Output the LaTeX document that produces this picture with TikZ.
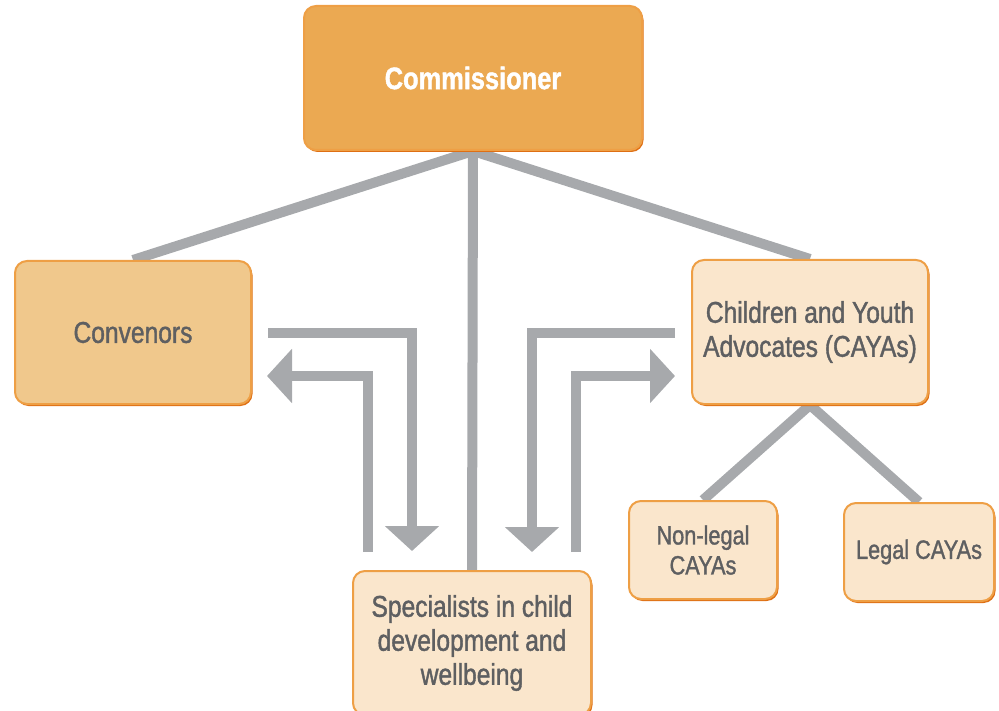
\documentclass[tikz,border=0pt]{standalone}
\usepackage{fontspec}
\setmainfont{Liberation Sans}[FakeStretch=0.82, FakeBold=1.3]
\usetikzlibrary{arrows.meta,backgrounds,shadows}
\definecolor{topfill}{HTML}{EBA952}
\definecolor{midfill}{HTML}{F0C88C}
\definecolor{lowfill}{HTML}{FAE6CC}
\definecolor{edge}{HTML}{EE9F45}
\definecolor{edgedark}{HTML}{DE6F14}
\definecolor{linkgray}{HTML}{A7A9AC}
\definecolor{textgray}{HTML}{5E5F61}
\tikzstyle{box} = [rounded corners=12pt, draw=edge, line width=2pt, align=center, inner sep=0pt, text=textgray, font=\fontsize{30}{34}\selectfont, general shadow={fill=edgedark, shadow xshift=1.5pt, shadow yshift=-2pt}]
\tikzstyle{link} = [line width=10pt, draw=linkgray]
\tikzstyle{flow} = [link, -{Triangle[length=25pt,width=53pt]}]

\begin{document}
\begin{tikzpicture}[x=1pt,y=-1pt]
			\useasboundingbox (0,0) rectangle (999,711);
			\node[box, fill=topfill, text=white, font=\fontsize{31}{34}\selectfont\bfseries, minimum width=338pt, minimum height=144pt] (comm) at (473,78) {Commissioner};
			\node[box, fill=midfill, minimum width=236pt, minimum height=143pt] (conv) at (133,332.5) {Convenors};
			\node[box, fill=lowfill, minimum width=236pt, minimum height=144pt] (caya) at (810,332) {Children and Youth\\Advocates (CAYAs)};
			\node[box, fill=lowfill, minimum width=238pt, minimum height=144pt] (spec) at (472,643) {Specialists in child\\development and\\wellbeing};
			\node[box, fill=lowfill, font=\fontsize{26.5}{30}\selectfont, minimum width=148pt, minimum height=98pt] (nonlegal) at (703,550) {Non-legal\\CAYAs};
			\node[box, fill=lowfill, font=\fontsize{26.5}{30}\selectfont, minimum width=150pt, minimum height=98pt] (legal) at (919,552) {Legal CAYAs};
			\begin{scope}[on background layer]
				\draw[link] (comm.south) -- (conv.north);
				\draw[link] (comm.south) -- (caya.north);
				\draw[link] (comm.south) -- (spec.north);
				\draw[link] (caya.south) -- (nonlegal.north);
				\draw[link] (caya.south) -- (legal.north);
			\end{scope}
			% exchange with the specialists
			\coordinate (cl1) at (268,333.5);
			\coordinate (cl2) at (412,551);
			\coordinate (cl3) at (368,552);
			\coordinate (cl4) at (267,376);
			\coordinate (cr1) at (675,333);
			\coordinate (cr2) at (532,552);
			\coordinate (cr3) at (576,552);
			\coordinate (cr4) at (675,376);
			\draw[flow] (cl1) -| (cl2);
			\draw[flow] (cl3) |- (cl4);
			\draw[flow] (cr1) -| (cr2);
			\draw[flow] (cr3) |- (cr4);
		\end{tikzpicture}
\end{document}
